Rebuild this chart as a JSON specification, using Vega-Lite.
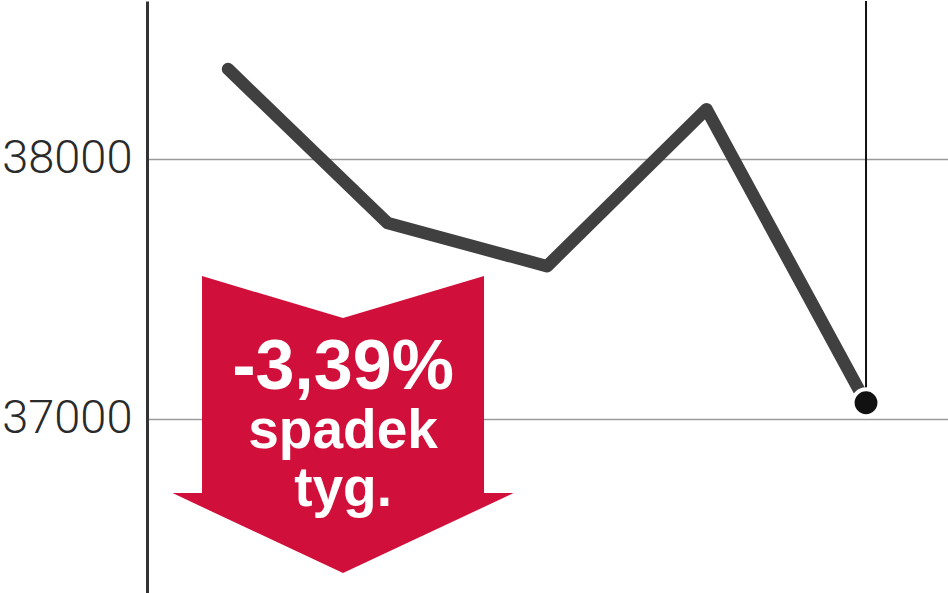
{
  "$schema": "https://vega.github.io/schema/vega-lite/v6.json",
  "width": 801,
  "height": 593,
  "padding": 0,
  "background": "white",
  "view": {"stroke": null},
  "config": {
    "axisY": {
      "minExtent": 147,
      "maxExtent": 147
    }
  },
  "layer": [
    {
      "data": {"values": [{"x": 0.721, "y": 36977.7}]},
      "mark": {
        "type": "point",
        "shape": "M-0.827,-0.871 L0,-0.625 L0.827,-0.871 L0.827,0.402 L1,0.402 L0,0.871 L-1,0.402 L-0.827,0.402 Z",
        "size": 116281,
        "filled": true,
        "opacity": 1,
        "strokeWidth": 0,
        "color": "#d0103a"
      },
      "encoding": {
        "x": {"field": "x", "type": "quantitative", "scale": {"domain": [-0.508, 4.514], "nice": false, "zero": false}, "axis": null},
        "y": {
          "field": "y",
          "type": "quantitative",
          "scale": {"domain": [36326, 38607], "nice": false, "zero": false},
          "axis": {
            "title": null,
            "values": [37000, 38000],
            "format": "d",
            "grid": true,
            "gridColor": "#9a9a9a",
            "gridWidth": 1.6,
            "ticks": false,
            "domain": true,
            "domainColor": "#333333",
            "domainWidth": 3,
            "labelFont": "Roboto",
            "labelFontWeight": 300,
            "labelFontSize": 47,
            "labelColor": "#2a2a2a",
            "labelPadding": 15
          }
        }
      }
    },
    {
      "data": {"values": [
        {"day": 0, "value": 38345},
        {"day": 1, "value": 37753},
        {"day": 2, "value": 37587},
        {"day": 3, "value": 38191},
        {"day": 4, "value": 37061.5}
      ]},
      "layer": [
        {
          "mark": {"type": "line", "color": "#404040", "strokeWidth": 12.5, "strokeCap": "round", "strokeJoin": "round"},
          "encoding": {
            "x": {"field": "day", "type": "quantitative"},
            "y": {"field": "value", "type": "quantitative"}
          }
        },
        {
          "transform": [{"filter": "datum.day == 4"}],
          "mark": {"type": "rule", "color": "#111111", "strokeWidth": 2},
          "encoding": {
            "x": {"field": "day", "type": "quantitative"},
            "y": {"field": "value", "type": "quantitative"},
            "y2": {"datum": 38607}
          }
        },
        {
          "transform": [{"filter": "datum.day == 4"}],
          "mark": {"type": "point", "filled": true, "opacity": 1, "size": 720, "color": "#111111", "stroke": "white", "strokeWidth": 4},
          "encoding": {
            "x": {"field": "day", "type": "quantitative"},
            "y": {"field": "value", "type": "quantitative"}
          }
        }
      ]
    },
    {
      "data": {"values": [{"x": 0.721, "y": 37114, "label": "-3,39%"}]},
      "mark": {"type": "text", "font": "Liberation Sans", "fontWeight": "bold", "fontSize": 70, "color": "white", "align": "center", "baseline": "alphabetic"},
      "encoding": {
        "x": {"field": "x", "type": "quantitative"},
        "y": {"field": "y", "type": "quantitative"},
        "text": {"field": "label"}
      }
    },
    {
      "data": {"values": [{"x": 0.721, "y": 36887, "label": "spadek\ntyg."}]},
      "mark": {"type": "text", "font": "Liberation Sans", "fontWeight": "bold", "fontSize": 55, "lineHeight": 58, "lineBreak": "\n", "color": "white", "align": "center", "baseline": "alphabetic"},
      "encoding": {
        "x": {"field": "x", "type": "quantitative"},
        "y": {"field": "y", "type": "quantitative"},
        "text": {"field": "label"}
      }
    }
  ]
}
